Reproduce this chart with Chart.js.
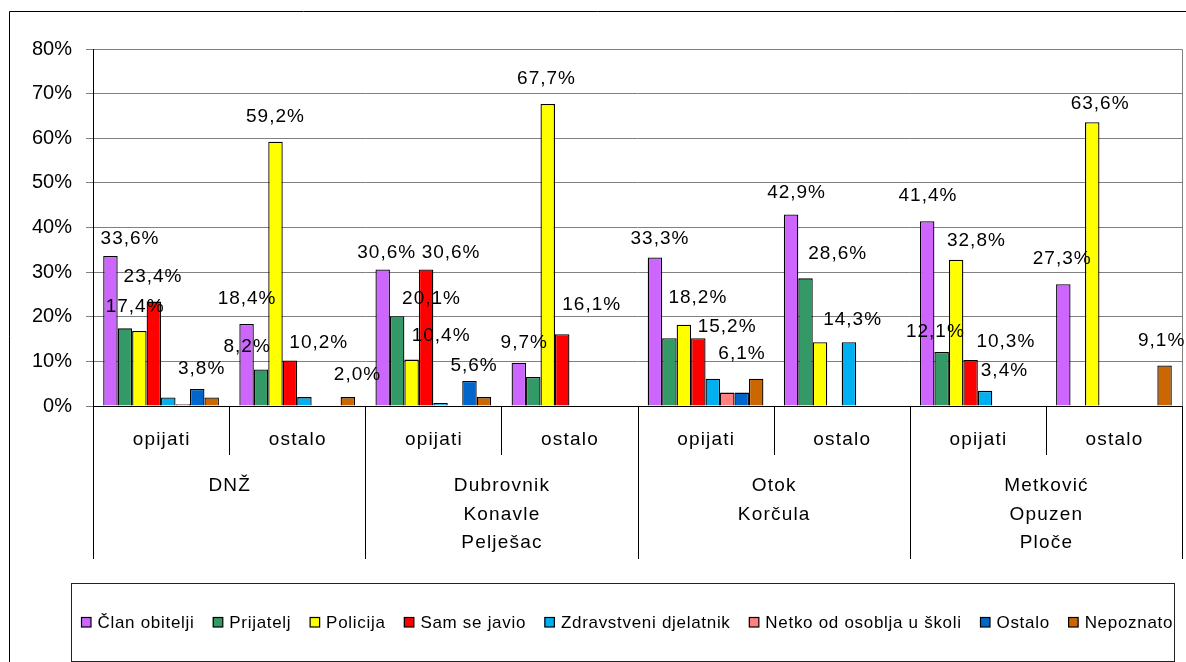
<!DOCTYPE html>
<html>
<head>
<meta charset="utf-8">
<script src="https://cdn.jsdelivr.net/npm/chart.js@4/dist/chart.umd.min.js"></script>
<style>
  body { margin: 0; background: #fff; }
  canvas { display: block; }
</style>
</head>
<body>
<canvas id="chart" width="1186" height="662"></canvas>
<script>
// CATEGORIES
const subCategories = ["opijati", "ostalo", "opijati", "ostalo", "opijati", "ostalo", "opijati", "ostalo"];
const regions = [["DNŽ"], ["Dubrovnik", "Konavle", "Pelješac"], ["Otok", "Korčula"], ["Metković", "Opuzen", "Ploče"]];
const yTicks = [0, 10, 20, 30, 40, 50, 60, 70, 80];

// SERIES (percent)
const seriesNames = ["Član obitelji", "Prijatelj", "Policija", "Sam se javio", "Zdravstveni djelatnik", "Netko od osoblja u školi", "Ostalo", "Nepoznato"];
const clanObitelji = [33.6, 18.4, 30.6, 9.7, 33.3, 42.9, 41.4, 27.3];
const prijatelj = [17.4, 8.2, 20.1, 6.5, 15.2, 28.6, 12.1, null];
const policija = [16.8, 59.2, 10.4, 67.7, 18.2, 14.3, 32.8, 63.6];
const samSeJavio = [23.4, 10.2, 30.6, 16.1, 15.2, null, 10.3, null];
const zdravstveni = [1.9, 2.0, 0.7, null, 6.1, 14.3, 3.4, null];
const netko = [0.4, null, null, null, 3.0, null, null, null];
const ostalo = [3.8, null, 5.6, null, 3.0, null, null, null];
const nepoznato = [1.9, 2.0, 2.0, null, 6.1, null, null, 9.1];

const seriesColors = ["#CC66FF", "#339966", "#FFFF00", "#FF0000", "#00B0F0", "#FF8080", "#0066CC", "#CC6600"];

// which bars carry a value label: [series, category, nudge x, nudge y]
const shownLabels = [
  [0, 0, 19.6, -17.3], [3, 0, -0.8, -24.4], [1, 0, 10.2, -21.7], [6, 0, 4.4, -19.8],
  [0, 1, 0.5, -24.7], [1, 1, -13.9, -22.4], [2, 1, 0, -24.8], [3, 1, 28.8, -18], [7, 1, 9.7, -22],
  [0, 2, 4, -17], [3, 2, 25, -17], [1, 2, 34.4, -17.3], [2, 2, 29.5, -23.8], [6, 2, 4.6, -15.2],
  [0, 3, 5.4, -20.2], [2, 3, -1.2, -24.9], [3, 3, 29.5, -29.7],
  [0, 4, 5, -18.4], [2, 4, 14, -27.3], [3, 4, 28.8, -11.5], [7, 4, -14.2, -25],
  [0, 5, 5.5, -21.3], [1, 5, 32.2, -24.4], [4, 5, 3.7, -22.7],
  [0, 6, 0.8, -25.5], [2, 6, 20.3, -18.4], [1, 6, -6.3, -20], [3, 6, 35.3, -17.8], [4, 6, 19.4, -20],
  [0, 7, -1.1, -25.2], [2, 7, 7.9, -18.2], [7, 7, -2.9, -24.6]
];

const FONT = "'Liberation Sans', Arial, sans-serif";
const allSeries = [clanObitelji, prijatelj, policija, samSeJavio, zdravstveni, netko, ostalo, nepoznato];

function fmt(v) {
  return v.toFixed(1).replace(".", ",") + "%";
}

// AXES, LABELS, LEGEND
const decorations = {
  id: "decorations",
  afterDraw(chart) {
    const ctx = chart.ctx;
    const a = chart.chartArea;
    const step = (a.right - a.left) / subCategories.length;
    ctx.save();

    // outer chart frame
    ctx.strokeStyle = "#000";
    ctx.lineWidth = 1;
    ctx.beginPath();
    ctx.moveTo(9.5, 662);
    ctx.lineTo(9.5, 11.5);
    ctx.lineTo(1186, 11.5);
    ctx.stroke();

    // plot border top / right
    ctx.strokeStyle = "#808080";
    ctx.beginPath();
    ctx.moveTo(Math.round(a.left) + 0.5, Math.round(a.top) + 0.5);
    ctx.lineTo(Math.round(a.right) + 0.5, Math.round(a.top) + 0.5);
    ctx.lineTo(Math.round(a.right) + 0.5, Math.round(a.bottom) + 0.5);
    ctx.stroke();

    // axis lines and category separators
    ctx.strokeStyle = "#000";
    ctx.beginPath();
    ctx.moveTo(Math.round(a.left) + 0.5, Math.round(a.top));
    ctx.lineTo(Math.round(a.left) + 0.5, Math.round(a.bottom) + 0.5);
    ctx.moveTo(Math.round(a.left), Math.round(a.bottom) + 0.5);
    ctx.lineTo(Math.round(a.right) + 1, Math.round(a.bottom) + 0.5);
    for (let i = 0; i <= subCategories.length; i++) {
      const x = Math.round(a.left + i * step) + 0.5;
      ctx.moveTo(x, Math.round(a.bottom));
      ctx.lineTo(x, i % 2 === 0 ? 559 : 455);
    }
    ctx.stroke();

    ctx.fillStyle = "#000";
    ctx.textAlign = "center";
    ctx.textBaseline = "middle";
    ctx.letterSpacing = "1.2px";
    ctx.font = "19px " + FONT;

    // level 1 labels
    subCategories.forEach((t, i) => {
      ctx.fillText(t, a.left + (i + 0.5) * step + 0.6, 440);
    });
    // level 2 labels
    regions.forEach((lines, r) => {
      const cx = a.left + (r * 2 + 1) * step + 0.6;
      lines.forEach((t, k) => ctx.fillText(t, cx, 486 + k * 28.5));
    });

    // value labels
    ctx.letterSpacing = "1px";
    shownLabels.forEach(([s, i, dx, dy]) => {
      const bar = chart.getDatasetMeta(s).data[i];
      ctx.fillText(fmt(allSeries[s][i]), bar.x + dx, bar.y + dy);
    });

    // legend box
    ctx.letterSpacing = "0px";
    ctx.strokeStyle = "#222";
    ctx.strokeRect(71.5, 583.5, 1103, 78);

    ctx.font = "17px " + FONT;
    ctx.letterSpacing = "0.7px";
    ctx.textAlign = "left";
    let x = 81;
    seriesNames.forEach((name, s) => {
      ctx.fillStyle = seriesColors[s];
      ctx.fillRect(x, 617, 10, 10);
      ctx.strokeStyle = "#000";
      ctx.lineWidth = 1.2;
      ctx.strokeRect(x + 0.5, 617.5, 9.5, 9.5);
      ctx.fillStyle = "#000";
      ctx.fillText(name, x + 16.5, 623);
      x += 16.5 + ctx.measureText(name).width + 18.3;
    });

    ctx.restore();
  }
};

new Chart(document.getElementById("chart"), {
  type: "bar",
  data: {
    labels: subCategories,
    datasets: allSeries.map((data, s) => ({
      label: seriesNames[s],
      data,
      backgroundColor: seriesColors[s],
      borderColor: "#000",
      borderWidth: 1.3,
      categoryPercentage: 0.85,
      barPercentage: 1.0
    }))
  },
  options: {
    responsive: false,
    animation: false,
    events: [],
    layout: { padding: { top: 49, right: 4, left: 0, bottom: 0 } },
    plugins: {
      legend: { display: false },
      tooltip: { enabled: false }
    },
    scales: {
      x: {
        grid: { display: false },
        border: { display: false },
        ticks: { display: false },
        afterFit: s => { s.height = 256; }
      },
      y: {
        min: 0,
        max: 80,
        afterBuildTicks: s => { s.ticks = yTicks.map(v => ({ value: v })); },
        ticks: {
          callback: v => v + "%",
          color: "#000",
          padding: 14,
          font: { family: FONT, size: 20 }
        },
        grid: { color: "#808080", tickLength: 7 },
        border: { display: false },
        afterFit: s => { s.width = 93; }
      }
    }
  },
  plugins: [decorations]
});
</script>
</body>
</html>
